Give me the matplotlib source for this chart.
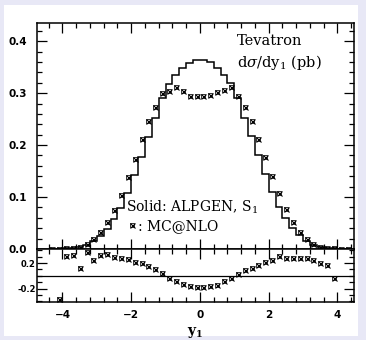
import numpy as np
import matplotlib
matplotlib.use("Agg")
import matplotlib.pyplot as plt
from matplotlib.ticker import MultipleLocator, FormatStrFormatter, FixedLocator
from matplotlib.patches import Rectangle
from matplotlib.lines import Line2D

plt.rcParams["mathtext.fontset"] = "dejavuserif"

# ---- data ----
bin_edges = np.round(np.arange(-4.4, 4.41, 0.2), 2)
bin_centers = np.round(np.arange(-4.3, 4.31, 0.2), 2)

alpgen = [0.0004, 0.0008, 0.0012, 0.002, 0.0035, 0.007, 0.016, 0.025, 0.039, 0.058,
          0.079, 0.108, 0.143, 0.178, 0.215, 0.252, 0.290, 0.317, 0.335, 0.349,
          0.358, 0.364, 0.364, 0.359, 0.349, 0.335, 0.319, 0.291, 0.252, 0.217,
          0.180, 0.145, 0.110, 0.080, 0.059, 0.041, 0.026, 0.015, 0.008, 0.0035,
          0.0018, 0.001, 0.0006, 0.0003]

mcnlo = [0.0003, 0.0005, 0.0016, 0.0027, 0.004, 0.009, 0.019, 0.033, 0.052, 0.076,
         0.104, 0.139, 0.174, 0.211, 0.247, 0.274, 0.300, 0.305, 0.311, 0.304,
         0.295, 0.295, 0.295, 0.296, 0.302, 0.306, 0.311, 0.295, 0.274, 0.246,
         0.212, 0.177, 0.140, 0.107, 0.077, 0.052, 0.033, 0.019, 0.010, 0.004,
         0.002, 0.001, 0.0005, 0.0003]

ratio = [np.nan, -0.36, 0.31, 0.33, 0.12, 0.38, 0.24, 0.33, 0.34, 0.30,
         0.28, 0.265, 0.22, 0.195, 0.16, 0.10, 0.04, -0.035, -0.075, -0.125,
         -0.165, -0.175, -0.17, -0.16, -0.14, -0.08, -0.03, 0.03, 0.09, 0.13,
         0.175, 0.21, 0.24, 0.31, 0.28, 0.28, 0.28, 0.28, 0.25, 0.20,
         0.175, -0.04, np.nan, np.nan]

main_yticks = [0.0, 0.1, 0.2, 0.3, 0.4]
ratio_yticks = [-0.2, 0.2]
x_ticks = [-4, -2, 0, 2, 4]

W, H = 366, 340
fig = plt.figure(figsize=(W / 100, H / 100), dpi=100)
fig.patch.set_facecolor("#e8e8f6")
bg = Rectangle((4 / W, 4 / H), (W - 12) / W, (H - 9) / H,
               transform=fig.transFigure, facecolor="white",
               edgecolor="none", zorder=-10)
fig.add_artist(bg)

left, right = 37, 354
ax = fig.add_axes([left / W, 1 - 249 / H, (right - left) / W, (249 - 23) / H])
axr = fig.add_axes([left / W, 1 - 302 / H, (right - left) / W, (302 - 249) / H], sharex=ax)

serif = ["DejaVu Serif"]
FP = matplotlib.font_manager.FontProperties

MX = dict(marker="x", markersize=3.6, markeredgewidth=0.8, color="black")
MS = dict(marker="s", markersize=2.2, markeredgewidth=0.55,
          markerfacecolor="none", markeredgecolor="black")

# histogram
ax.stairs(alpgen, bin_edges, color="black", linewidth=1.1, zorder=3)

def boxx(a, x, y, clip=True):
    a.plot(x, y, linestyle="none", clip_on=clip, zorder=4, **MX)
    a.plot(x, y, linestyle="none", clip_on=clip, zorder=4, **MS)

boxx(ax, bin_centers, mcnlo, clip=False)
boxx(axr, bin_centers, ratio)
axr.axhline(0, color="black", linewidth=0.9)

ax.set_xlim(-4.74, 4.48)
ax.set_ylim(0.0, 0.435)
axr.set_ylim(-0.41, 0.42)

for a in (ax, axr):
    for s in a.spines.values():
        s.set_linewidth(1.1)
    a.tick_params(which="both", direction="in", top=True, right=True, width=0.9)
    a.tick_params(which="major", length=7.5)
    a.tick_params(which="minor", length=3.6)
    a.xaxis.set_major_locator(FixedLocator(x_ticks))
    a.xaxis.set_minor_locator(MultipleLocator(0.4))

ax.yaxis.set_major_locator(FixedLocator(main_yticks))
ax.yaxis.set_minor_locator(MultipleLocator(0.02))
ax.yaxis.set_major_formatter(FormatStrFormatter("%.1f"))
ax.tick_params(labelbottom=False)
for lbl in ax.get_yticklabels():
    lbl.set_fontproperties(FP(family="DejaVu Sans", weight="bold", size=7.5))
ax.tick_params(axis="y", pad=7)

axr.yaxis.set_major_locator(FixedLocator(ratio_yticks))
axr.yaxis.set_minor_locator(MultipleLocator(0.1))
axr.yaxis.set_major_formatter(FormatStrFormatter("%.1f"))
axr.set_xticks(x_ticks)
axr.set_xticklabels(["\u2212%d" % -v if v < 0 else "%d" % v for v in x_ticks])
for lbl in axr.get_yticklabels():
    lbl.set_fontproperties(FP(family="DejaVu Sans", weight="bold", size=6))
for lbl in axr.get_xticklabels():
    lbl.set_fontproperties(FP(family="DejaVu Sans", weight="bold", size=7.5))
axr.tick_params(axis="y", pad=1)
axr.tick_params(axis="x", pad=6)

axr.set_xlabel(r"$\mathbf{y}_\mathbf{1}$", fontsize=10, labelpad=3)

def ptext(x, y, s, size):
    fig.text(x / W, 1 - y / H, s, fontsize=size, family=serif, va="center", ha="left")

ptext(237, 41, "Tevatron", 10.5)
ptext(237, 62, r"d$\sigma$/dy$_1$ (pb)", 10.5)
ptext(126, 207, r"Solid: ALPGEN, S$_1$", 10)
ptext(138, 226, ": MC@NLO", 10)
# legend marker for MC@NLO
for kw in (MX, MS):
    fig.add_artist(Line2D([132 / W], [1 - 225 / H], transform=fig.transFigure,
                          linestyle="none", **kw))

fig.savefig("out.png", dpi=100, facecolor=fig.get_facecolor())
